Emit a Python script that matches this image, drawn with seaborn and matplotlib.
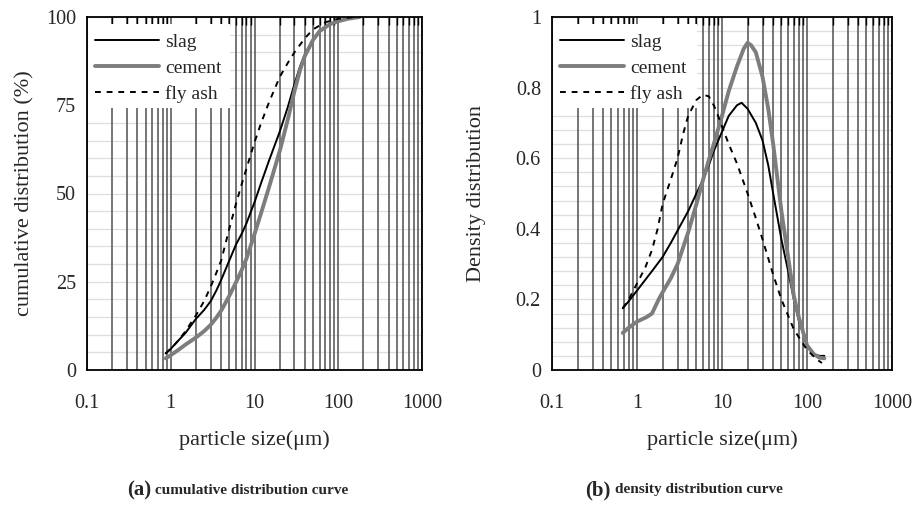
import numpy as np
import pandas as pd
import matplotlib
matplotlib.use("Agg")
import matplotlib.pyplot as plt
import seaborn as sns
from matplotlib.patches import Rectangle
from matplotlib.ticker import LogLocator, FixedLocator, MultipleLocator, NullFormatter, FuncFormatter

sns.set_theme(style="white")
plt.rcParams['font.family'] = ['Liberation Serif', 'DejaVu Serif']

# ---- data: cumulative distribution (%) ----
cum_slag_x = [0.87, 1.0, 1.25, 1.5, 2, 2.5, 3, 3.5, 4, 5, 6, 7, 8, 10, 12, 15, 20, 25, 30, 35, 40, 50, 60, 80, 100, 130, 180]
cum_slag_y = [4.7, 6.0, 8.5, 10.5, 14.5, 17, 19.5, 22.5, 25.5, 31, 35.5, 38.5, 41.5, 47.5, 53, 59.5, 67.5, 74.5, 81, 86, 89.5, 93.5, 96, 98, 98.8, 99.5, 100]
cum_cement_x = [0.87, 1.0, 1.25, 1.5, 2, 2.5, 3, 3.5, 4, 5, 6, 7, 8, 10, 12, 15, 20, 25, 30, 35, 40, 50, 60, 80, 100, 130, 180]
cum_cement_y = [3.3, 4.2, 5.8, 7.2, 9.2, 11, 12.8, 14.8, 16.8, 21, 24.8, 28.2, 31.5, 38.5, 44.5, 52, 62, 71, 79, 85, 89, 93.5, 96, 98, 98.8, 99.5, 100]
cum_flyash_x = [0.87, 1.0, 1.25, 1.5, 2, 2.5, 3, 3.5, 4, 5, 6, 7, 8, 10, 12, 15, 20, 25, 30, 40, 50, 70, 100, 160]
cum_flyash_y = [4.7, 6.0, 8.5, 11, 15.5, 19.5, 23.6, 27.5, 31, 40, 47, 52.5, 57, 64.5, 70, 76, 83, 87, 90, 94, 96.5, 98.5, 99.5, 100]

# ---- data: density distribution ----
den_slag_x = [0.68, 0.8, 1, 1.5, 2, 2.5, 3, 4, 5, 6, 7, 8, 10, 12, 15, 17, 20, 25, 30, 35, 40, 50, 60, 70, 80, 100, 120, 140, 160]
den_slag_y = [0.175, 0.195, 0.225, 0.28, 0.32, 0.36, 0.395, 0.45, 0.50, 0.54, 0.58, 0.62, 0.675, 0.72, 0.75, 0.757, 0.74, 0.70, 0.65, 0.58, 0.50, 0.37, 0.28, 0.20, 0.14, 0.07, 0.045, 0.04, 0.04]
den_cement_x = [0.68, 0.8, 1, 1.3, 1.5, 1.8, 2, 2.5, 3, 4, 5, 6, 7, 8, 10, 12, 15, 18, 20, 22, 25, 30, 35, 40, 50, 60, 70, 80, 100, 120, 140, 160]
den_cement_y = [0.105, 0.12, 0.137, 0.15, 0.16, 0.20, 0.22, 0.26, 0.30, 0.39, 0.47, 0.54, 0.595, 0.64, 0.72, 0.79, 0.86, 0.91, 0.927, 0.92, 0.90, 0.83, 0.74, 0.64, 0.45, 0.32, 0.21, 0.15, 0.07, 0.045, 0.035, 0.033]
den_flyash_x = [0.68, 0.8, 1, 1.25, 1.5, 1.75, 2, 2.5, 3, 3.5, 4, 5, 6, 7, 8, 9, 10, 12, 15, 20, 25, 30, 40, 50, 70, 100, 130, 150]
den_flyash_y = [0.175, 0.20, 0.245, 0.29, 0.34, 0.40, 0.47, 0.54, 0.60, 0.67, 0.72, 0.765, 0.78, 0.775, 0.75, 0.72, 0.69, 0.64, 0.585, 0.50, 0.43, 0.37, 0.27, 0.20, 0.115, 0.057, 0.03, 0.02]

series_names = ["slag", "cement", "fly ash"]

fig = plt.figure(figsize=(9.15, 5.07), dpi=100)
ax1 = fig.add_axes([87/915, 137/507, 335/915, 353/507])
ax2 = fig.add_axes([552/915, 137/507, 340/915, 353/507])

styles = {
    "slag": dict(color="black", linewidth=1.4, linestyle="-"),
    "cement": dict(color="#7d7d7d", linewidth=2.8, linestyle="-"),
    "fly ash": dict(color="black", linewidth=1.4, linestyle=(0, (3, 3))),
}

def draw(ax, xs, ys):
    for name, x, y in zip(series_names, xs, ys):
        df = pd.DataFrame({"x": x, "y": y})
        sns.lineplot(data=df, x="x", y="y", ax=ax, label=name, sort=True,
                     estimator=None, zorder=3, **styles[name])

draw(ax1, [cum_slag_x, cum_cement_x, cum_flyash_x], [cum_slag_y, cum_cement_y, cum_flyash_y])
draw(ax2, [den_slag_x, den_cement_x, den_flyash_x], [den_slag_y, den_cement_y, den_flyash_y])

def style_axis(ax, ymax, ymajor, yminor, ylabel, fmt, ylabelpad, box_w):
    ax.set_xscale("log")
    ax.set_xlim(0.1, 1000)
    ax.set_ylim(0, ymax)
    ax.xaxis.set_major_locator(FixedLocator([0.1, 1, 10, 100, 1000]))
    ax.xaxis.set_minor_locator(LogLocator(base=10, subs=np.arange(2, 10)))
    ax.xaxis.set_minor_formatter(NullFormatter())
    ax.xaxis.set_major_formatter(FuncFormatter(lambda v, p: "%g" % v))
    ax.yaxis.set_major_locator(MultipleLocator(ymajor))
    ax.yaxis.set_minor_locator(MultipleLocator(yminor))
    ax.yaxis.set_major_formatter(FuncFormatter(fmt))
    ax.grid(True, axis="x", which="both", color="#505050", linewidth=1.1)
    ax.grid(True, axis="y", which="both", color="#dedede", linewidth=0.9)
    ax.set_axisbelow(True)
    ax.yaxis.set_zorder(0.4)
    ax.xaxis.set_zorder(0.6)
    ax.tick_params(which="both", direction="in", top=True, right=False,
                   labelsize=14.5, length=5, width=1, color="black", pad=8)
    ax.tick_params(axis="x", which="major", length=0, pad=17)
    ax.tick_params(axis="x", which="minor", length=6)
    for s in ax.spines.values():
        s.set_color("black")
        s.set_linewidth(1.3)
        s.set_zorder(4)
    ax.set_xlabel("particle size(μm)", fontsize=16, labelpad=13)
    ax.set_ylabel(ylabel, fontsize=16, labelpad=ylabelpad)
    # white backing box behind the legend (hides grid lines as in the original)
    ax.add_patch(Rectangle((0.004, 0.742), box_w, 1 - 0.742 - 7/353,
                           transform=ax.transAxes, facecolor="white",
                           edgecolor="none", zorder=2))
    leg = ax.legend(loc="upper left", bbox_to_anchor=(0.0, 0.976), frameon=False,
                    fontsize=14, handlelength=3.3, handletextpad=0.3,
                    borderaxespad=0.0, labelspacing=0.43, borderpad=0.4)
    leg.set_zorder(2.5)

style_axis(ax1, 100, 25, 5, "cumulative distribution (%)", lambda v, p: "%d" % v, 8, 0.423)
style_axis(ax2, 1, 0.2, 0.04, "Density distribution", lambda v, p: "%g" % round(v, 2), 21, 0.422)

cap_y = 1 - 490/507
fig.text(151/915, cap_y, "(a)", ha="right", va="center", fontsize=15, fontweight="bold")
fig.text(155/915, cap_y, "cumulative distribution curve", ha="left", va="center",
         fontsize=11, fontweight="bold")
fig.text(611/915, cap_y, "(b)", ha="right", va="center", fontsize=15, fontweight="bold")
fig.text(615/915, cap_y, "density distribution curve", ha="left", va="center",
         fontsize=11, fontweight="bold")

fig.savefig("out.png", dpi=100)
